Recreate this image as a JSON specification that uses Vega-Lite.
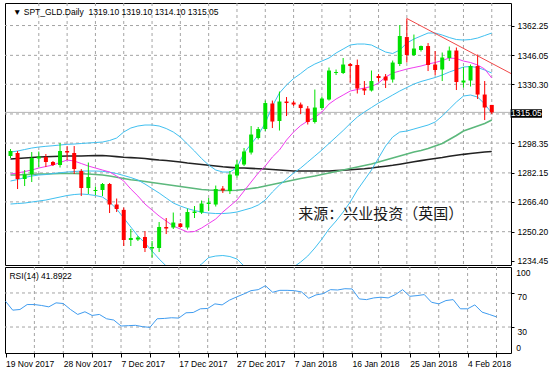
{
  "$schema": "https://vega.github.io/schema/vega-lite/v6.json",
  "padding": {"left": 4, "top": 2, "right": 0, "bottom": 0},
  "background": "#ffffff",
  "spacing": 2,
  "bounds": "flush",
  "config": {
    "view": {"stroke": "#000000", "strokeWidth": 1},
    "font": "Liberation Sans",
    "axis": {"labelFont": "Liberation Sans", "labelFontSize": 8.5, "labelColor": "#000000", "tickColor": "#000000", "domain": false, "labelOverlap": false, "labelBound": false, "grid": false}
  },
  "datasets": {
    "bars": [
      {"i":0,"d":"2017-11-19","o":1291.33,"h":1295.13,"l":1290.24,"c":1294.05,"bbu":1293.50,"bbm":1277.74,"bbl":1265.24,"maf":1281.55,"mam":1281.00,"mas":1289.70,"rsi":60.3},
      {"i":1,"d":"2017-11-20","o":1292.96,"h":1294.05,"l":1273.39,"c":1278.83,"bbu":1294.05,"bbm":1278.55,"bbl":1265.51,"maf":1282.09,"mam":1281.00,"mas":1289.97,"rsi":49.8},
      {"i":2,"d":"2017-11-21","o":1278.83,"h":1283.72,"l":1275.02,"c":1281.27,"bbu":1294.86,"bbm":1279.64,"bbl":1265.78,"maf":1282.90,"mam":1281.27,"mas":1290.24,"rsi":50.6},
      {"i":3,"d":"2017-11-22","o":1281.55,"h":1293.50,"l":1277.20,"c":1290.24,"bbu":1295.67,"bbm":1280.46,"bbl":1266.33,"maf":1283.72,"mam":1281.27,"mas":1290.51,"rsi":56.4},
      {"i":4,"d":"2017-11-23","o":1289.97,"h":1293.78,"l":1285.35,"c":1291.06,"bbu":1296.22,"bbm":1281.00,"bbl":1266.87,"maf":1284.81,"mam":1281.55,"mas":1290.79,"rsi":56.4},
      {"i":5,"d":"2017-11-24","o":1290.79,"h":1292.42,"l":1285.35,"c":1288.07,"bbu":1296.60,"bbm":1281.27,"bbl":1267.41,"maf":1285.62,"mam":1281.55,"mas":1290.95,"rsi":55.3},
      {"i":6,"d":"2017-11-26","o":1288.07,"h":1288.61,"l":1285.89,"c":1286.44,"bbu":1296.93,"bbm":1281.82,"bbl":1268.23,"maf":1286.44,"mam":1281.71,"mas":1291.06,"rsi":53.7},
      {"i":7,"d":"2017-11-27","o":1286.44,"h":1298.40,"l":1285.08,"c":1294.05,"bbu":1297.31,"bbm":1282.25,"bbl":1269.05,"maf":1287.80,"mam":1281.82,"mas":1291.17,"rsi":58.4},
      {"i":8,"d":"2017-11-28","o":1294.05,"h":1296.76,"l":1289.16,"c":1293.23,"bbu":1297.69,"bbm":1282.63,"bbl":1269.86,"maf":1289.16,"mam":1281.82,"mas":1291.33,"rsi":57.6},
      {"i":9,"d":"2017-11-29","o":1292.96,"h":1296.76,"l":1281.55,"c":1284.26,"bbu":1297.85,"bbm":1282.90,"bbl":1270.40,"maf":1288.61,"mam":1281.82,"mas":1291.33,"rsi":50.6},
      {"i":10,"d":"2017-11-30","o":1283.18,"h":1284.26,"l":1269.59,"c":1273.94,"bbu":1298.13,"bbm":1283.18,"bbl":1270.68,"maf":1287.25,"mam":1281.71,"mas":1291.33,"rsi":44.8},
      {"i":11,"d":"2017-12-01","o":1273.94,"h":1287.80,"l":1270.68,"c":1279.91,"bbu":1298.40,"bbm":1283.18,"bbl":1270.40,"maf":1285.89,"mam":1281.55,"mas":1291.44,"rsi":47.9},
      {"i":12,"d":"2017-12-03","o":1272.31,"h":1274.75,"l":1270.13,"c":1272.85,"bbu":1298.67,"bbm":1283.18,"bbl":1269.86,"maf":1284.81,"mam":1281.27,"mas":1291.55,"rsi":43.6},
      {"i":13,"d":"2017-12-04","o":1272.85,"h":1276.66,"l":1269.59,"c":1276.11,"bbu":1298.94,"bbm":1283.01,"bbl":1269.05,"maf":1283.72,"mam":1281.00,"mas":1291.60,"rsi":44.8},
      {"i":14,"d":"2017-12-05","o":1276.11,"h":1276.66,"l":1260.35,"c":1264.97,"bbu":1299.76,"bbm":1282.52,"bbl":1266.33,"maf":1282.63,"mam":1280.46,"mas":1291.33,"rsi":39.7},
      {"i":15,"d":"2017-12-06","o":1264.97,"h":1268.23,"l":1260.89,"c":1262.52,"bbu":1301.12,"bbm":1281.82,"bbl":1262.52,"maf":1280.46,"mam":1279.75,"mas":1291.00,"rsi":38.2},
      {"i":16,"d":"2017-12-07","o":1262.07,"h":1263.34,"l":1242.42,"c":1245.68,"bbu":1304.38,"bbm":1280.73,"bbl":1257.63,"maf":1277.74,"mam":1279.10,"mas":1290.68,"rsi":31.2},
      {"i":17,"d":"2017-12-08","o":1245.68,"h":1251.68,"l":1242.42,"c":1246.76,"bbu":1306.55,"bbm":1279.64,"bbl":1252.74,"maf":1273.39,"mam":1278.45,"mas":1290.46,"rsi":31.6},
      {"i":18,"d":"2017-12-10","o":1245.95,"h":1247.85,"l":1245.13,"c":1247.04,"bbu":1307.64,"bbm":1278.28,"bbl":1247.85,"maf":1269.59,"mam":1278.01,"mas":1290.24,"rsi":32.0},
      {"i":19,"d":"2017-12-11","o":1247.31,"h":1250.57,"l":1239.15,"c":1241.33,"bbu":1308.18,"bbm":1276.11,"bbl":1244.04,"maf":1265.24,"mam":1277.47,"mas":1289.97,"rsi":30.4},
      {"i":20,"d":"2017-12-12","o":1241.06,"h":1245.13,"l":1236.16,"c":1241.88,"bbu":1308.18,"bbm":1273.66,"bbl":1239.70,"maf":1261.98,"mam":1276.92,"mas":1289.53,"rsi":29.6},
      {"i":21,"d":"2017-12-13","o":1241.33,"h":1255.46,"l":1239.15,"c":1252.74,"bbu":1307.64,"bbm":1271.22,"bbl":1235.35,"maf":1258.72,"mam":1276.38,"mas":1289.16,"rsi":39.7},
      {"i":22,"d":"2017-12-14","o":1252.74,"h":1257.63,"l":1248.93,"c":1251.93,"bbu":1306.28,"bbm":1268.50,"bbl":1231.55,"maf":1256.00,"mam":1275.84,"mas":1288.88,"rsi":40.1},
      {"i":23,"d":"2017-12-15","o":1252.47,"h":1260.62,"l":1251.65,"c":1255.19,"bbu":1304.38,"bbm":1265.78,"bbl":1228.29,"maf":1253.28,"mam":1275.29,"mas":1288.50,"rsi":40.9},
      {"i":24,"d":"2017-12-17","o":1254.64,"h":1254.92,"l":1252.47,"c":1252.74,"bbu":1301.66,"bbm":1264.15,"bbl":1227.20,"maf":1251.65,"mam":1274.75,"mas":1288.07,"rsi":40.5},
      {"i":25,"d":"2017-12-18","o":1252.47,"h":1262.79,"l":1251.38,"c":1260.89,"bbu":1297.85,"bbm":1262.79,"bbl":1227.74,"maf":1250.02,"mam":1274.20,"mas":1287.52,"rsi":46.7},
      {"i":26,"d":"2017-12-19","o":1260.35,"h":1264.15,"l":1257.63,"c":1261.17,"bbu":1294.05,"bbm":1261.70,"bbl":1229.92,"maf":1250.30,"mam":1273.66,"mas":1287.14,"rsi":47.1},
      {"i":27,"d":"2017-12-20","o":1260.62,"h":1267.14,"l":1259.80,"c":1265.51,"bbu":1289.97,"bbm":1260.89,"bbl":1232.64,"maf":1252.20,"mam":1273.12,"mas":1286.71,"rsi":51.4},
      {"i":28,"d":"2017-12-21","o":1265.24,"h":1268.50,"l":1261.44,"c":1266.05,"bbu":1286.44,"bbm":1260.35,"bbl":1236.16,"maf":1254.64,"mam":1272.85,"mas":1286.33,"rsi":51.8},
      {"i":29,"d":"2017-12-22","o":1264.97,"h":1275.29,"l":1263.88,"c":1273.39,"bbu":1283.72,"bbm":1260.07,"bbl":1236.98,"maf":1257.09,"mam":1272.69,"mas":1285.89,"rsi":57.2},
      {"i":30,"d":"2017-12-24","o":1273.66,"h":1275.02,"l":1271.22,"c":1272.58,"bbu":1282.63,"bbm":1260.07,"bbl":1237.25,"maf":1260.89,"mam":1272.58,"mas":1285.46,"rsi":56.0},
      {"i":31,"d":"2017-12-26","o":1272.31,"h":1283.18,"l":1270.68,"c":1281.27,"bbu":1282.63,"bbm":1260.35,"bbl":1236.71,"maf":1264.15,"mam":1272.58,"mas":1285.18,"rsi":61.5},
      {"i":32,"d":"2017-12-27","o":1280.73,"h":1289.16,"l":1279.65,"c":1286.71,"bbu":1285.08,"bbm":1260.89,"bbl":1235.35,"maf":1267.41,"mam":1272.69,"mas":1284.91,"rsi":65.3},
      {"i":33,"d":"2017-12-28","o":1286.71,"h":1295.67,"l":1285.89,"c":1293.78,"bbu":1292.96,"bbm":1261.98,"bbl":1231.55,"maf":1272.31,"mam":1273.12,"mas":1284.81,"rsi":68.8},
      {"i":34,"d":"2017-12-29","o":1293.23,"h":1307.63,"l":1292.14,"c":1303.01,"bbu":1297.85,"bbm":1263.07,"bbl":1228.29,"maf":1277.20,"mam":1273.66,"mas":1284.64,"rsi":72.7},
      {"i":35,"d":"2017-12-31","o":1301.11,"h":1307.09,"l":1300.30,"c":1306.00,"bbu":1302.74,"bbm":1264.70,"bbl":1226.66,"maf":1282.09,"mam":1274.20,"mas":1284.42,"rsi":73.9},
      {"i":36,"d":"2018-01-02","o":1306.00,"h":1321.49,"l":1304.92,"c":1320.13,"bbu":1309.26,"bbm":1267.41,"bbl":1225.57,"maf":1285.89,"mam":1275.02,"mas":1284.26,"rsi":78.5},
      {"i":37,"d":"2018-01-03","o":1319.86,"h":1321.49,"l":1306.54,"c":1310.08,"bbu":1318.50,"bbm":1271.76,"bbl":1225.03,"maf":1290.79,"mam":1275.84,"mas":1283.99,"rsi":70.8},
      {"i":38,"d":"2018-01-04","o":1310.35,"h":1326.38,"l":1305.18,"c":1320.95,"bbu":1325.57,"bbm":1275.57,"bbl":1225.57,"maf":1294.59,"mam":1276.66,"mas":1283.72,"rsi":73.1},
      {"i":39,"d":"2018-01-05","o":1320.95,"h":1323.39,"l":1313.07,"c":1320.13,"bbu":1329.92,"bbm":1278.83,"bbl":1227.74,"maf":1300.02,"mam":1277.47,"mas":1283.44,"rsi":73.1},
      {"i":40,"d":"2018-01-07","o":1320.40,"h":1321.22,"l":1318.50,"c":1319.32,"bbu":1333.45,"bbm":1282.09,"bbl":1231.00,"maf":1304.38,"mam":1278.28,"mas":1283.18,"rsi":72.7},
      {"i":41,"d":"2018-01-08","o":1319.32,"h":1320.40,"l":1314.16,"c":1317.41,"bbu":1336.17,"bbm":1284.81,"bbl":1233.72,"maf":1307.91,"mam":1279.10,"mas":1283.18,"rsi":71.2},
      {"i":42,"d":"2018-01-09","o":1317.14,"h":1318.50,"l":1308.45,"c":1309.81,"bbu":1339.16,"bbm":1288.07,"bbl":1236.98,"maf":1310.35,"mam":1279.75,"mas":1283.18,"rsi":63.8},
      {"i":43,"d":"2018-01-10","o":1309.81,"h":1327.47,"l":1308.99,"c":1317.69,"bbu":1341.33,"bbm":1291.33,"bbl":1241.33,"maf":1312.25,"mam":1280.46,"mas":1283.18,"rsi":67.7},
      {"i":44,"d":"2018-01-11","o":1317.41,"h":1323.67,"l":1316.33,"c":1322.58,"bbu":1342.96,"bbm":1294.59,"bbl":1246.22,"maf":1315.24,"mam":1281.27,"mas":1283.18,"rsi":69.2},
      {"i":45,"d":"2018-01-12","o":1322.04,"h":1339.43,"l":1321.49,"c":1337.80,"bbu":1344.59,"bbm":1298.13,"bbl":1251.65,"maf":1319.59,"mam":1282.09,"mas":1283.18,"rsi":73.9},
      {"i":46,"d":"2018-01-14","o":1336.44,"h":1338.34,"l":1335.35,"c":1336.98,"bbu":1347.31,"bbm":1301.66,"bbl":1256.00,"maf":1322.31,"mam":1282.90,"mas":1283.39,"rsi":73.5},
      {"i":47,"d":"2018-01-15","o":1336.44,"h":1344.59,"l":1335.89,"c":1341.06,"bbu":1349.48,"bbm":1305.19,"bbl":1260.89,"maf":1324.48,"mam":1283.72,"mas":1283.61,"rsi":75.0},
      {"i":48,"d":"2018-01-16","o":1341.33,"h":1341.87,"l":1331.27,"c":1340.24,"bbu":1351.66,"bbm":1308.99,"bbl":1266.33,"maf":1326.66,"mam":1284.53,"mas":1283.88,"rsi":74.7},
      {"i":49,"d":"2018-01-17","o":1340.79,"h":1343.78,"l":1325.30,"c":1328.01,"bbu":1352.20,"bbm":1312.52,"bbl":1272.85,"maf":1327.47,"mam":1285.35,"mas":1284.15,"rsi":63.0},
      {"i":50,"d":"2018-01-18","o":1328.01,"h":1332.09,"l":1324.48,"c":1326.93,"bbu":1352.20,"bbm":1315.24,"bbl":1278.28,"maf":1328.29,"mam":1286.17,"mas":1284.42,"rsi":62.2},
      {"i":51,"d":"2018-01-19","o":1326.93,"h":1337.80,"l":1326.38,"c":1332.09,"bbu":1351.66,"bbm":1317.69,"bbl":1283.72,"maf":1329.10,"mam":1286.98,"mas":1284.81,"rsi":64.2},
      {"i":52,"d":"2018-01-21","o":1334.81,"h":1335.89,"l":1331.82,"c":1333.72,"bbu":1349.75,"bbm":1320.13,"bbl":1290.24,"maf":1330.99,"mam":1288.07,"mas":1285.35,"rsi":65.0},
      {"i":53,"d":"2018-01-22","o":1334.53,"h":1335.89,"l":1328.29,"c":1332.36,"bbu":1347.85,"bbm":1322.31,"bbl":1296.76,"maf":1334.26,"mam":1289.16,"mas":1285.79,"rsi":64.2},
      {"i":54,"d":"2018-01-23","o":1332.90,"h":1343.23,"l":1331.27,"c":1342.14,"bbu":1347.04,"bbm":1324.48,"bbl":1301.66,"maf":1336.44,"mam":1290.24,"mas":1286.28,"rsi":68.1},
      {"i":55,"d":"2018-01-24","o":1341.33,"h":1362.53,"l":1340.24,"c":1356.55,"bbu":1348.94,"bbm":1326.66,"bbl":1304.38,"maf":1337.52,"mam":1291.33,"mas":1286.87,"rsi":73.9},
      {"i":56,"d":"2018-01-25","o":1356.00,"h":1366.08,"l":1342.14,"c":1346.22,"bbu":1352.74,"bbm":1328.56,"bbl":1304.92,"maf":1338.61,"mam":1292.42,"mas":1287.52,"rsi":66.1},
      {"i":57,"d":"2018-01-26","o":1346.22,"h":1357.36,"l":1345.68,"c":1349.75,"bbu":1354.92,"bbm":1330.46,"bbl":1306.00,"maf":1339.43,"mam":1293.50,"mas":1288.18,"rsi":66.9},
      {"i":58,"d":"2018-01-28","o":1348.94,"h":1351.38,"l":1348.12,"c":1351.11,"bbu":1356.55,"bbm":1331.82,"bbl":1307.09,"maf":1340.24,"mam":1294.32,"mas":1288.83,"rsi":68.1},
      {"i":59,"d":"2018-01-29","o":1351.11,"h":1352.74,"l":1337.52,"c":1340.79,"bbu":1358.18,"bbm":1332.90,"bbl":1308.18,"maf":1341.33,"mam":1295.40,"mas":1289.42,"rsi":59.1},
      {"i":60,"d":"2018-01-30","o":1341.06,"h":1348.39,"l":1335.35,"c":1338.07,"bbu":1358.18,"bbm":1334.00,"bbl":1309.81,"maf":1342.14,"mam":1296.76,"mas":1289.97,"rsi":57.2},
      {"i":61,"d":"2018-01-31","o":1338.34,"h":1347.58,"l":1332.09,"c":1344.86,"bbu":1357.09,"bbm":1335.35,"bbl":1313.07,"maf":1343.23,"mam":1298.13,"mas":1290.51,"rsi":61.1},
      {"i":62,"d":"2018-02-01","o":1344.59,"h":1350.84,"l":1342.96,"c":1348.67,"bbu":1355.73,"bbm":1336.98,"bbl":1316.87,"maf":1344.59,"mam":1300.30,"mas":1291.17,"rsi":62.2},
      {"i":63,"d":"2018-02-02","o":1348.67,"h":1350.30,"l":1327.20,"c":1331.54,"bbu":1354.65,"bbm":1338.34,"bbl":1320.68,"maf":1344.32,"mam":1302.47,"mas":1291.71,"rsi":51.4},
      {"i":64,"d":"2018-02-04","o":1331.27,"h":1339.70,"l":1328.56,"c":1332.36,"bbu":1354.37,"bbm":1339.70,"bbl":1323.94,"maf":1342.96,"mam":1304.92,"mas":1292.25,"rsi":51.4},
      {"i":65,"d":"2018-02-05","o":1332.36,"h":1341.06,"l":1329.10,"c":1340.24,"bbu":1354.65,"bbm":1339.97,"bbl":1324.48,"maf":1342.14,"mam":1306.28,"mas":1292.69,"rsi":56.0},
      {"i":66,"d":"2018-02-06","o":1340.24,"h":1346.49,"l":1322.31,"c":1324.75,"bbu":1355.46,"bbm":1339.43,"bbl":1323.39,"maf":1340.79,"mam":1307.64,"mas":1293.12,"rsi":47.5},
      {"i":67,"d":"2018-02-07","o":1324.75,"h":1332.09,"l":1310.89,"c":1317.69,"bbu":1356.82,"bbm":1338.07,"bbl":1319.59,"maf":1338.61,"mam":1309.00,"mas":1293.50,"rsi":44.8},
      {"i":68,"d":"2018-02-08","o":1319.10,"h":1319.10,"l":1314.10,"c":1315.05,"bbu":1358.18,"bbm":1336.44,"bbl":1314.70,"maf":1333.72,"mam":1310.89,"mas":1293.78,"rsi":41.89}
    ],
    "trend": [{"i": 56, "p": 1366.1}, {"i": 71, "p": 1335.6}],
    "gridX": [{"g": 4}, {"g": 8}, {"g": 12}, {"g": 16}, {"g": 20}, {"g": 24}, {"g": 28}, {"g": 32}, {"g": 36}, {"g": 40}, {"g": 44}, {"g": 48}, {"g": 52}, {"g": 56}, {"g": 60}, {"g": 64}, {"g": 68}],
    "gridPrice": [{"g": 1250.20}, {"g": 1266.40}, {"g": 1282.15}, {"g": 1298.35}, {"g": 1314.2}, {"g": 1330.30}, {"g": 1346.05}, {"g": 1362.25}],
    "gridRsi": [{"g": 30}, {"g": 70}]
  },
  "vconcat": [
    {
      "width": 506,
      "height": 262,
      "resolve": {"axis": {"x": "independent", "y": "independent"}, "scale": {"x": "shared", "y": "shared"}},
      "layer": [
        {
          "data": {"name": "gridX"},
          "mark": {"type": "rule", "color": "#a4a4a4", "strokeWidth": 1, "strokeDash": [3, 3]},
          "encoding": {
            "x": {"field": "g", "type": "quantitative", "scale": {"domain": [-0.07, 70.01], "nice": false, "zero": false},
              "axis": {"title": null, "values": [4, 8, 12, 16, 20, 24, 28, 32, 36, 40, 44, 48, 52, 56, 60, 64, 68], "labels": false, "ticks": false, "grid": false}}
          }
        },
        {
          "data": {"name": "gridPrice"},
          "mark": {"type": "rule", "color": "#a4a4a4", "strokeWidth": 1, "strokeDash": [3, 3]},
          "encoding": {
            "y": {"field": "g", "type": "quantitative", "scale": {"domain": [1232.1, 1374.5], "nice": false, "zero": false},
              "axis": {"orient": "right", "title": null, "values": [1234.45, 1250.20, 1266.40, 1282.15, 1298.35, 1314.2, 1330.30, 1346.05, 1362.25], "labelExpr": "datum.value == 1314.2 ? '' : format(datum.value, '.2f')", "tickSize": 3, "labelPadding": 3, "grid": false, "labelFlush": false, "labelBound": false, "labelOverlap": false, "labelBaseline": "middle"}}
          }
        },
        {
          "data": {"values": [{"bid": 1315.05}]},
          "mark": {"type": "rule", "color": "#b4b4b4", "strokeWidth": 1},
          "encoding": {
            "y": {"field": "bid", "type": "quantitative", "scale": {"domain": [1232.1, 1374.5], "nice": false, "zero": false}, "axis": null}
          }
        },
        {
          "data": {"name": "bars"},
          "mark": {"type": "line", "color": "#222222", "strokeWidth": 1.6, "clip": true},
          "encoding": {
            "x": {"field": "i", "type": "quantitative", "scale": {"domain": [-0.07, 70.01], "nice": false, "zero": false}, "axis": null},
            "y": {"field": "mas", "type": "quantitative", "scale": {"domain": [1232.1, 1374.5], "nice": false, "zero": false}, "axis": null}
          }
        },
        {
          "data": {"name": "bars"},
          "mark": {"type": "line", "color": "#5cb87c", "strokeWidth": 1.6, "clip": true},
          "encoding": {
            "x": {"field": "i", "type": "quantitative", "scale": {"domain": [-0.07, 70.01], "nice": false, "zero": false}, "axis": null},
            "y": {"field": "mam", "type": "quantitative", "scale": {"domain": [1232.1, 1374.5], "nice": false, "zero": false}, "axis": null}
          }
        },
        {
          "data": {"name": "bars"},
          "mark": {"type": "line", "color": "#40c0f0", "strokeWidth": 1, "clip": true},
          "encoding": {
            "x": {"field": "i", "type": "quantitative", "scale": {"domain": [-0.07, 70.01], "nice": false, "zero": false}, "axis": null},
            "y": {"field": "bbu", "type": "quantitative", "scale": {"domain": [1232.1, 1374.5], "nice": false, "zero": false}, "axis": null}
          }
        },
        {
          "data": {"name": "bars"},
          "mark": {"type": "line", "color": "#40c0f0", "strokeWidth": 1, "clip": true},
          "encoding": {
            "x": {"field": "i", "type": "quantitative", "scale": {"domain": [-0.07, 70.01], "nice": false, "zero": false}, "axis": null},
            "y": {"field": "bbm", "type": "quantitative", "scale": {"domain": [1232.1, 1374.5], "nice": false, "zero": false}, "axis": null}
          }
        },
        {
          "data": {"name": "bars"},
          "mark": {"type": "line", "color": "#40c0f0", "strokeWidth": 1, "clip": true},
          "encoding": {
            "x": {"field": "i", "type": "quantitative", "scale": {"domain": [-0.07, 70.01], "nice": false, "zero": false}, "axis": null},
            "y": {"field": "bbl", "type": "quantitative", "scale": {"domain": [1232.1, 1374.5], "nice": false, "zero": false}, "axis": null}
          }
        },
        {
          "data": {"name": "bars"},
          "mark": {"type": "line", "color": "#f03cf0", "strokeWidth": 1, "clip": true},
          "encoding": {
            "x": {"field": "i", "type": "quantitative", "scale": {"domain": [-0.07, 70.01], "nice": false, "zero": false}, "axis": null},
            "y": {"field": "maf", "type": "quantitative", "scale": {"domain": [1232.1, 1374.5], "nice": false, "zero": false}, "axis": null}
          }
        },
        {
          "data": {"name": "bars"},
          "mark": {"type": "rule", "strokeWidth": 1, "clip": true},
          "encoding": {
            "x": {"field": "i", "type": "quantitative", "scale": {"domain": [-0.07, 70.01], "nice": false, "zero": false}, "axis": null},
            "y": {"field": "l", "type": "quantitative", "scale": {"domain": [1232.1, 1374.5], "nice": false, "zero": false}, "axis": null},
            "y2": {"field": "h"},
            "color": {"condition": {"test": "datum.c >= datum.o", "value": "#00e000"}, "value": "#ff0000"}
          }
        },
        {
          "data": {"name": "bars"},
          "mark": {"type": "bar", "width": 4, "clip": true},
          "encoding": {
            "x": {"field": "i", "type": "quantitative", "scale": {"domain": [-0.07, 70.01], "nice": false, "zero": false}, "axis": null},
            "y": {"field": "o", "type": "quantitative", "scale": {"domain": [1232.1, 1374.5], "nice": false, "zero": false}, "axis": null},
            "y2": {"field": "c"},
            "color": {"condition": {"test": "datum.c >= datum.o", "value": "#00e000"}, "value": "#ff0000"}
          }
        },
        {
          "data": {"name": "trend"},
          "mark": {"type": "line", "color": "#f04848", "strokeWidth": 1, "clip": true},
          "encoding": {
            "x": {"field": "i", "type": "quantitative", "scale": {"domain": [-0.07, 70.01], "nice": false, "zero": false}, "axis": null},
            "y": {"field": "p", "type": "quantitative", "scale": {"domain": [1232.1, 1374.5], "nice": false, "zero": false}, "axis": null}
          }
        },
        {
          "data": {"values": [{"t": "▼ SPT_GLD.Daily\u00a0 1319.10 1319.10 1314.10 1315.05"}]},
          "mark": {"type": "text", "align": "left", "baseline": "middle", "font": "Liberation Sans", "fontSize": 8.5, "color": "#000000"},
          "encoding": {
            "x": {"datum": 0.35, "type": "quantitative", "scale": {"domain": [-0.07, 70.01], "nice": false, "zero": false}, "axis": null},
            "y": {"datum": 1369.6, "type": "quantitative", "scale": {"domain": [1232.1, 1374.5], "nice": false, "zero": false}, "axis": null},
            "text": {"field": "t"}
          }
        },
        {
          "data": {"values": [{"t": "来源：兴业投资（英国）"}]},
          "mark": {"type": "text", "align": "left", "baseline": "middle", "font": "Noto Sans CJK SC", "fontSize": 15, "color": "#1a1a1a"},
          "encoding": {
            "x": {"datum": 40.65, "type": "quantitative", "scale": {"domain": [-0.07, 70.01], "nice": false, "zero": false}, "axis": null},
            "y": {"datum": 1259.6, "type": "quantitative", "scale": {"domain": [1232.1, 1374.5], "nice": false, "zero": false}, "axis": null},
            "text": {"field": "t"}
          }
        },
        {
          "data": {"values": [{"t": "1315.05"}]},
          "mark": {"type": "rect", "color": "#000000", "clip": false},
          "encoding": {
            "x": {"datum": 70.66, "type": "quantitative", "scale": {"domain": [-0.07, 70.01], "nice": false, "zero": false}, "axis": null},
            "x2": {"datum": 75.1},
            "y": {"datum": 1316.71, "type": "quantitative", "scale": {"domain": [1232.1, 1374.5], "nice": false, "zero": false}, "axis": null},
            "y2": {"datum": 1312.14}
          }
        },
        {
          "data": {"values": [{"t": "1315.05"}]},
          "mark": {"type": "text", "align": "center", "baseline": "middle", "font": "Liberation Sans", "fontSize": 8.5, "color": "#ffffff"},
          "encoding": {
            "x": {"datum": 72.88, "type": "quantitative", "scale": {"domain": [-0.07, 70.01], "nice": false, "zero": false}, "axis": null},
            "y": {"datum": 1314.5, "type": "quantitative", "scale": {"domain": [1232.1, 1374.5], "nice": false, "zero": false}, "axis": null},
            "text": {"field": "t"}
          }
        }
      ]
    },
    {
      "width": 506,
      "height": 86,
      "resolve": {"axis": {"x": "independent", "y": "independent"}, "scale": {"x": "shared", "y": "shared"}},
      "layer": [
        {
          "data": {"name": "gridX"},
          "mark": {"type": "rule", "color": "#a4a4a4", "strokeWidth": 1, "strokeDash": [3, 3]},
          "encoding": {
            "x": {"field": "g", "type": "quantitative", "scale": {"domain": [-0.07, 70.01], "nice": false, "zero": false},
              "axis": {"title": null, "values": [0, 4, 8, 12, 16, 20, 24, 28, 32, 36, 40, 44, 48, 52, 56, 60, 64, 68],
                "labelExpr": "datum.value % 8 == 0 ? ['19 Nov 2017','28 Nov 2017','7 Dec 2017','17 Dec 2017','27 Dec 2017','7 Jan 2018','16 Jan 2018','25 Jan 2018','4 Feb 2018'][datum.value / 8] : ''",
                "labelAlign": "left", "labelBaseline": "top", "labelPadding": 2, "tickSize": 4, "labelFlush": false, "labelBound": false, "labelOverlap": false, "grid": false}}
          }
        },
        {
          "data": {"name": "gridRsi"},
          "mark": {"type": "rule", "color": "#a4a4a4", "strokeWidth": 1, "strokeDash": [3, 3]},
          "encoding": {
            "y": {"field": "g", "type": "quantitative", "scale": {"domain": [-0.5, 100.5], "nice": false, "zero": false},
              "axis": {"orient": "right", "title": null, "values": [30, 70], "tickSize": 3, "labelPadding": 3, "labelFlush": false, "labelBound": false, "labelOverlap": false, "grid": false, "labelBaseline": "top"}}
          }
        },
        {
          "data": {"name": "bars"},
          "mark": {"type": "line", "color": "#3f9cf0", "strokeWidth": 1, "clip": true},
          "encoding": {
            "x": {"field": "i", "type": "quantitative", "scale": {"domain": [-0.07, 70.01], "nice": false, "zero": false}, "axis": null},
            "y": {"field": "rsi", "type": "quantitative", "scale": {"domain": [-0.5, 100.5], "nice": false, "zero": false}, "axis": null}
          }
        },
        {
          "data": {"values": [{"t": "RSI(14) 41.8922"}]},
          "mark": {"type": "text", "align": "left", "baseline": "middle", "font": "Liberation Sans", "fontSize": 8.5, "color": "#000000"},
          "encoding": {
            "x": {"datum": 0.55, "type": "quantitative", "scale": {"domain": [-0.07, 70.01], "nice": false, "zero": false}, "axis": null},
            "y": {"datum": 89.5, "type": "quantitative", "scale": {"domain": [-0.5, 100.5], "nice": false, "zero": false}, "axis": null},
            "text": {"field": "t"}
          }
        },
        {
          "data": {"values": [{"t": "100"}]},
          "mark": {"type": "text", "align": "left", "baseline": "middle", "font": "Liberation Sans", "fontSize": 8.5, "color": "#000000", "clip": false},
          "encoding": {
            "x": {"datum": 70.75, "type": "quantitative", "scale": {"domain": [-0.07, 70.01], "nice": false, "zero": false}, "axis": null},
            "y": {"datum": 94, "type": "quantitative", "scale": {"domain": [-0.5, 100.5], "nice": false, "zero": false}, "axis": null},
            "text": {"field": "t"}
          }
        },
        {
          "data": {"values": [{"t": "0"}]},
          "mark": {"type": "text", "align": "left", "baseline": "middle", "font": "Liberation Sans", "fontSize": 8.5, "color": "#000000", "clip": false},
          "encoding": {
            "x": {"datum": 70.75, "type": "quantitative", "scale": {"domain": [-0.07, 70.01], "nice": false, "zero": false}, "axis": null},
            "y": {"datum": 5.5, "type": "quantitative", "scale": {"domain": [-0.5, 100.5], "nice": false, "zero": false}, "axis": null},
            "text": {"field": "t"}
          }
        }
      ]
    }
  ]
}
